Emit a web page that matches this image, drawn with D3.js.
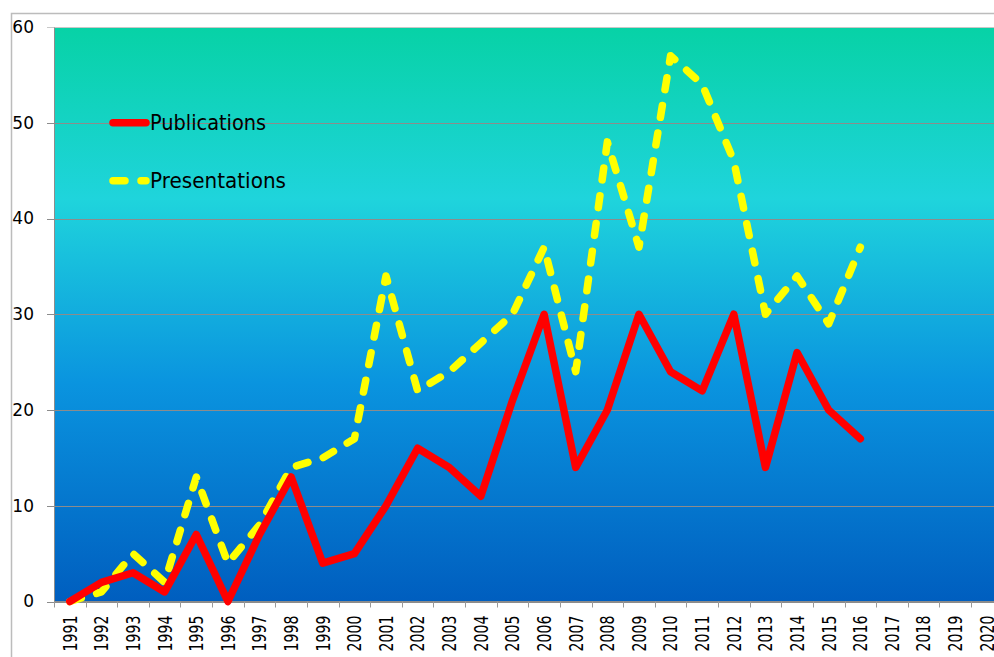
<!DOCTYPE html>
<html>
<head>
<meta charset="utf-8">
<script src="https://cdn.jsdelivr.net/npm/d3@7"></script>
<style>
  html, body { margin: 0; padding: 0; background: #fff; overflow: hidden; }
  svg { display: block; }
</style>
</head>
<body>
<div id="chart"></div>
<script>
// data
var years = d3.range(1991, 2021).map(String);
var publications = [0, 2, 3, 1, 7, 0, 7, 13, 4, 5, 10, 16, 14, 11, 21, 30, 14, 20, 30, 24, 22, 30, 14, 26, 20, 17];
var presentations = [0, 1, 5, 2, 13, 4, 8, 14, 15, 17, 34, 22, 24, 27, 30, 37, 24, 48, 37, 57, 54, 46, 30, 34, 29, 37];
var yTicks = [0, 10, 20, 30, 40, 50, 60];
var seriesNames = ["Publications", "Presentations"];

var svgWidth = 994;
var svgHeight = 657;

var margin = { top: 27, left: 54, bottom: 56 };
var plotRight = 1002.6; // plot runs past the right edge of the window
var plotBottom = svgHeight - margin.bottom + 0.5;

var svg = d3.select("#chart")
  .append("svg")
  .attr("width", svgWidth)
  .attr("height", svgHeight);

// background gradient of the plot area
var defs = svg.append("defs");
var grad = defs.append("linearGradient")
  .attr("id", "bg")
  .attr("gradientUnits", "userSpaceOnUse")
  .attr("x1", 0).attr("y1", margin.top)
  .attr("x2", 0).attr("y2", plotBottom);
grad.append("stop").attr("offset", "0%").attr("stop-color", "#07d2a6");
grad.append("stop").attr("offset", "30%").attr("stop-color", "#1fd4dc");
grad.append("stop").attr("offset", "62%").attr("stop-color", "#0a94df");
grad.append("stop").attr("offset", "100%").attr("stop-color", "#005ebf");

// scales
var x = d3.scaleBand()
  .domain(years)
  .range([margin.left, plotRight]);

var y = d3.scaleLinear()
  .domain([0, 60])
  .range([plotBottom, margin.top]);

var cx = function(i) { return x(years[i]) + x.bandwidth() / 2; };

// outer chart border (top + left)
svg.append("path")
  .attr("d", "M11.5," + svgHeight + "V13.5H" + svgWidth)
  .attr("fill", "none")
  .attr("stroke", "#bcbcbc")
  .attr("stroke-width", 1.5);

svg.append("rect")
  .attr("x", margin.left)
  .attr("y", margin.top)
  .attr("width", plotRight - margin.left)
  .attr("height", plotBottom - margin.top)
  .attr("fill", "url(#bg)");

// gridlines
svg.append("g")
  .selectAll("line")
  .data(yTicks)
  .enter()
  .append("line")
  .attr("x1", margin.left - 7)
  .attr("x2", plotRight)
  .attr("y1", d => Math.round(y(d)) + 0.5)
  .attr("y2", d => Math.round(y(d)) + 0.5)
  .attr("stroke", d => d === 60 ? "#c8c8c8" : "#8c8c8c")
  .attr("stroke-width", 1);

// y axis
var yAxis = d3.axisLeft(y)
  .tickValues(yTicks)
  .tickSize(0)
  .tickPadding(20);

var yAxisG = svg.append("g")
  .attr("transform", `translate(${margin.left}, 0)`)
  .call(yAxis);
yAxisG.select(".domain").attr("stroke", "#8c8c8c");
yAxisG.selectAll("text")
  .attr("font-family", "DejaVu Sans, sans-serif")
  .attr("font-size", "17px")
  .attr("fill", "#000");

// x axis
var xAxisG = svg.append("g")
  .attr("transform", `translate(0, ${plotBottom})`);
xAxisG.append("line")
  .attr("x1", margin.left).attr("x2", plotRight)
  .attr("stroke", "#8c8c8c");
xAxisG.selectAll(".tick")
  .data(years.map(d => x(d)).concat([plotRight]))
  .enter()
  .append("line")
  .attr("class", "tick")
  .attr("x1", d => Math.round(d) + 0.5)
  .attr("x2", d => Math.round(d) + 0.5)
  .attr("y1", 0)
  .attr("y2", 6)
  .attr("stroke", "#9a9a9a");
xAxisG.selectAll(".label")
  .data(years)
  .enter()
  .append("text")
  .attr("class", "label")
  .attr("transform", d => `translate(${x(d) + x.bandwidth() / 2}, 14) rotate(-90)`)
  .attr("text-anchor", "end")
  .attr("dy", "0.36em")
  .attr("font-family", "DejaVu Sans, sans-serif")
  .attr("font-size", "19px")
  .attr("textLength", 36)
  .attr("lengthAdjust", "spacingAndGlyphs")
  .attr("fill", "#000")
  .text(d => d);

// lines
var line = d3.line()
  .x((d, i) => cx(i))
  .y(d => y(d));

svg.append("path")
  .datum(presentations)
  .attr("d", line)
  .attr("fill", "none")
  .attr("stroke", "#ffff00")
  .attr("stroke-width", 7.5)
  .attr("stroke-linecap", "round")
  .attr("stroke-linejoin", "round")
  .attr("stroke-dasharray", "12,16");

svg.append("path")
  .datum(publications)
  .attr("d", line)
  .attr("fill", "none")
  .attr("stroke", "#ff0000")
  .attr("stroke-width", 7.5)
  .attr("stroke-linecap", "round")
  .attr("stroke-linejoin", "round");

// legend
var legend = svg.append("g");
var legendY = [122.7, 180.7];
var legendColors = ["#ff0000", "#ffff00"];
var legendDash = [null, "12,16"];

legend.selectAll("line")
  .data(seriesNames)
  .enter()
  .append("line")
  .attr("x1", 113)
  .attr("x2", 146)
  .attr("y1", (d, i) => legendY[i])
  .attr("y2", (d, i) => legendY[i])
  .attr("stroke", (d, i) => legendColors[i])
  .attr("stroke-width", 7.5)
  .attr("stroke-linecap", "round")
  .attr("stroke-dasharray", (d, i) => legendDash[i]);

legend.selectAll("text")
  .data(seriesNames)
  .enter()
  .append("text")
  .attr("x", 150)
  .attr("y", (d, i) => legendY[i] + 7.5)
  .attr("font-family", "DejaVu Sans, sans-serif")
  .attr("font-size", "21px")
  .attr("textLength", (d, i) => i === 0 ? 116 : 136)
  .attr("lengthAdjust", "spacingAndGlyphs")
  .attr("fill", "#000")
  .text(d => d);
</script>
</body>
</html>
